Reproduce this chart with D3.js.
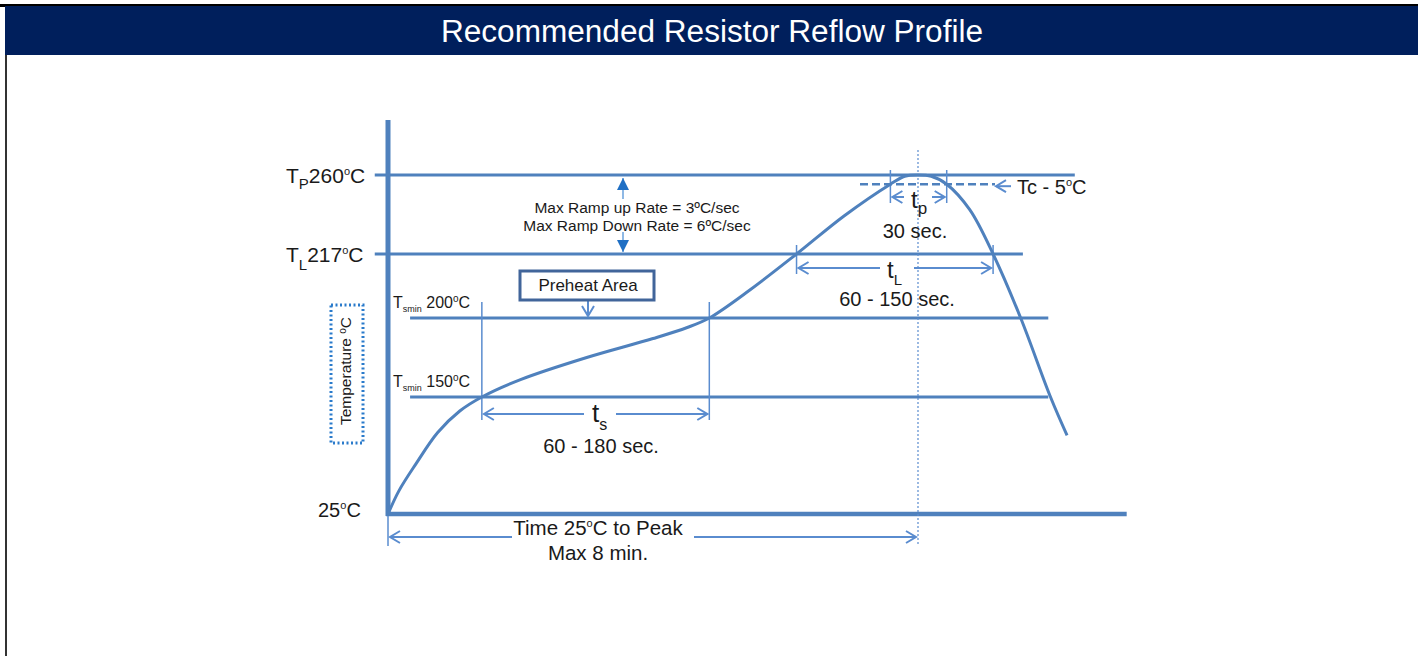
<!DOCTYPE html>
<html>
<head>
<meta charset="utf-8">
<script src="https://cdn.jsdelivr.net/npm/d3@7"></script>
<style>
 body { margin:0; background:#fff; }
 text { font-family:"Liberation Sans", Arial, sans-serif; fill:#1a1a1a; }
</style>
</head>
<body>
<script>
// profile curve, time in seconds / temperature in degC (schematic)
var profileTime = [0, 10, 25, 45, 65, 85, 120, 180, 240, 271, 291, 328, 370, 413, 455, 468, 480, 492, 506, 527, 548, 573, 600, 615];
var profileTemp = [25, 50, 78, 112, 135, 150, 161, 175, 187, 194, 200, 207.5, 217, 237.7, 255, 259.3, 260, 259.3, 255, 241, 217, 200, 150, 109];

// reference temperature levels and where their lines start / stop (seconds)
var levelTemps = [260, 217, 200, 150];
var levelStart = [-12, -12, 20, 20];
var levelEnd = [622, 575, 598, 598];

// the picture is not to scale: each level sits at its own height
var tempStops = [25, 150, 200, 217, 260];
var tempPixels = [514, 397, 318, 254, 175];

// time markers (seconds)
var tsSpan = [85, 291];
var tlSpan = [370, 548];
var tpSpan = [455, 506];
var peakTime = 480;
var tcTemp = 255;

var blue = "#4f81bd", lightBlue = "#5a8ccf", brightBlue = "#2a7bcb";

var W = 1418, H = 656;
var svg = d3.select("body").append("svg").attr("width", W).attr("height", H);

var x = d3.scaleLinear().domain([0, 480]).range([388, 918]);
var y = d3.scaleLinear().domain(tempStops).range(tempPixels);

var defs = svg.append("defs");
defs.append("marker").attr("id", "chev").attr("viewBox", "-12 -8 14 16")
 .attr("markerWidth", 14).attr("markerHeight", 16).attr("markerUnits", "userSpaceOnUse")
 .attr("refX", 0).attr("refY", 0).attr("orient", "auto-start-reverse")
 .append("path").attr("d", "M-10,-6 L0,0 L-10,6").attr("fill", "none")
 .attr("stroke", lightBlue).attr("stroke-width", 2);
defs.append("marker").attr("id", "tri").attr("viewBox", "-12 -6 12 12")
 .attr("markerWidth", 12).attr("markerHeight", 12).attr("markerUnits", "userSpaceOnUse")
 .attr("refX", 0).attr("refY", 0).attr("orient", "auto")
 .append("path").attr("d", "M-12,-6 L0,0 L-12,6 Z").attr("fill", "#1f6fc4");

/* frame + title band */
svg.append("rect").attr("x", 0).attr("y", 4).attr("width", W).attr("height", 3).attr("fill", "#000");
svg.append("rect").attr("x", 5).attr("y", 6).attr("width", W - 5).attr("height", 49).attr("fill", "#001f5c");
svg.append("rect").attr("x", 5).attr("y", 55).attr("width", 2).attr("height", H - 55).attr("fill", "#333");
svg.append("text").attr("x", 712).attr("y", 42).attr("text-anchor", "middle")
 .attr("font-size", 31).attr("textLength", 542).attr("lengthAdjust", "spacingAndGlyphs")
 .style("fill", "#fff").text("Recommended Resistor Reflow Profile");

/* level lines */
svg.selectAll("line.level").data(levelTemps).enter().append("line").attr("class", "level")
 .attr("x1", function(d, i) { return x(levelStart[i]); })
 .attr("x2", function(d, i) { return x(levelEnd[i]); })
 .attr("y1", function(d) { return y(d); }).attr("y2", function(d) { return y(d); })
 .attr("stroke", blue).attr("stroke-width", 3);

/* axes */
svg.append("line").attr("x1", x(0)).attr("x2", x(0)).attr("y1", y(290)).attr("y2", y(25) + 2)
 .attr("stroke", blue).attr("stroke-width", 5);
svg.append("line").attr("x1", x(0) - 2).attr("x2", x(669)).attr("y1", y(25)).attr("y2", y(25))
 .attr("stroke", blue).attr("stroke-width", 4.5);

/* thin guide lines */
function vline(t, t1, t2, dash) {
 svg.append("line").attr("x1", x(t)).attr("x2", x(t)).attr("y1", t1).attr("y2", t2)
  .attr("stroke", lightBlue).attr("stroke-width", dash ? 1.2 : 1.5)
  .attr("stroke-dasharray", dash ? "2,2" : null);
}
vline(tsSpan[0], 302, 420); vline(tsSpan[1], 302, 420);
vline(tlSpan[0], 245, 274); vline(tlSpan[1], 245, 274);
vline(tpSpan[0], 170, 203); vline(tpSpan[1], 170, 203);
vline(0, 516, 546);
vline(peakTime, 150, 546, true);

/* Tc - 5 dashed line */
svg.append("line").attr("x1", 860).attr("x2", 995).attr("y1", y(tcTemp)).attr("y2", y(tcTemp))
 .attr("stroke", blue).attr("stroke-width", 2.5).attr("stroke-dasharray", "8,4");

/* profile curve */
var pts = profileTime.map(function(t, i) { return [t, profileTemp[i]]; });
svg.append("path").datum(pts)
 .attr("d", d3.line().x(function(d) { return x(d[0]); }).y(function(d) { return y(d[1]); }).curve(d3.curveCatmullRom.alpha(0.5)))
 .attr("fill", "none").attr("stroke", blue).attr("stroke-width", 3);

/* span arrows with a gap for the label */
function span(a, b, yy, g1, g2) {
 svg.append("line").attr("x1", g1).attr("x2", a + 2).attr("y1", yy).attr("y2", yy)
  .attr("stroke", lightBlue).attr("stroke-width", 2).attr("marker-end", "url(#chev)");
 svg.append("line").attr("x1", g2).attr("x2", b - 2).attr("y1", yy).attr("y2", yy)
  .attr("stroke", lightBlue).attr("stroke-width", 2).attr("marker-end", "url(#chev)");
}
span(x(tsSpan[0]), x(tsSpan[1]), 414, 584, 616);
span(x(tlSpan[0]), x(tlSpan[1]), 268, 880, 914);
span(x(tpSpan[0]), x(tpSpan[1]), 197, 904, 932);
span(x(0), x(peakTime), 537, 512, 694);

/* Tc - 5 arrow */
svg.append("line").attr("x1", 1011).attr("x2", 996).attr("y1", y(tcTemp) + 2).attr("y2", y(tcTemp) + 2)
 .attr("stroke", lightBlue).attr("stroke-width", 2).attr("marker-end", "url(#chev)");
/* preheat arrow */
svg.append("line").attr("x1", 588).attr("x2", 588).attr("y1", 301).attr("y2", 316)
 .attr("stroke", lightBlue).attr("stroke-width", 2).attr("marker-end", "url(#chev)");
/* ramp rate arrows */
svg.append("line").attr("x1", 623).attr("x2", 623).attr("y1", 199).attr("y2", 178)
 .attr("stroke", "#6aa2dc").attr("stroke-width", 1.5).attr("marker-end", "url(#tri)");
svg.append("line").attr("x1", 623).attr("x2", 623).attr("y1", 232).attr("y2", 252)
 .attr("stroke", "#6aa2dc").attr("stroke-width", 1.5).attr("marker-end", "url(#tri)");

/* labels */
function label(xx, yy, parts, anchor) {
 var t = svg.append("text").attr("x", xx).attr("y", yy).attr("text-anchor", anchor || "start");
 parts.forEach(function(p) {
  t.append("tspan").attr("font-size", p[1]).attr("dy", p[2] || 0).text(p[0]);
 });
 return t;
}
label(286, 183, [["T", 21], ["P", 15, 6], ["260", 21, -6], ["o", 11, -8], ["C", 21, 8]]);
label(286, 262, [["T", 21], ["L", 15, 8], ["217", 21, -8], ["o", 11, -8], ["C", 21, 8]]);
label(393, 308, [["T", 16], ["smin", 9, 4], [" 200", 16, -4], ["o", 10, -6], ["C", 16, 6]]);
label(393, 387, [["T", 16], ["smin", 9, 4], [" 150", 16, -4], ["o", 10, -6], ["C", 16, 6]]);
label(318, 517, [["25", 20], ["o", 11, -8], ["C", 20, 8]]);

svg.append("rect").attr("x", 331).attr("y", 305).attr("width", 32).attr("height", 138)
 .attr("fill", "none").attr("stroke", brightBlue).attr("stroke-width", 3).attr("stroke-dasharray", "2,2.5");
label(0, 0, [["Temperature ", 15.5], ["o", 10, -5], ["C", 15.5, 5]], "middle")
 .attr("transform", "translate(351,371) rotate(-90)");

svg.append("rect").attr("x", 520).attr("y", 271).attr("width", 134).attr("height", 29)
 .attr("fill", "#fff").attr("stroke", "#41659a").attr("stroke-width", 3);
label(588, 291, [["Preheat Area", 17]], "middle");

label(637, 213, [["Max Ramp up Rate = 3ºC/sec", 15.5]], "middle");
label(637, 231, [["Max Ramp Down Rate = 6ºC/sec", 15.5]], "middle");

label(911, 208, [["t", 24], ["p", 17, 6]]);
label(915, 238, [["30 sec.", 20]], "middle");
label(887, 278, [["t", 24], ["L", 15, 7]]);
label(897, 306, [["60 - 150 sec.", 20]], "middle");
label(592, 422, [["t", 26], ["s", 16, 8]]);
label(601, 453, [["60 - 180 sec.", 20]], "middle");
label(1017, 194, [["Tc - 5", 20], ["o", 11, -8], ["C", 20, 8]]);
label(598, 535, [["Time 25", 20.5], ["o", 11, -8], ["C to Peak", 20.5, 8]], "middle");
label(598, 560, [["Max 8 min.", 20.5]], "middle");
</script>
</body>
</html>
